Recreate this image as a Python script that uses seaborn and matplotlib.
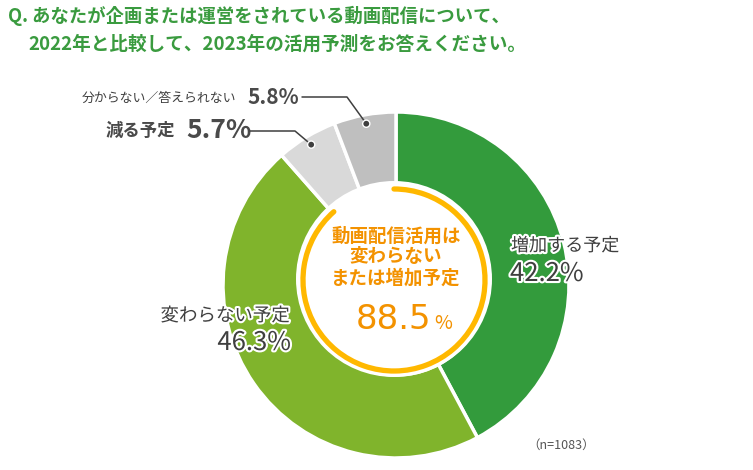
import numpy as np
import matplotlib
matplotlib.use("Agg")
import matplotlib.pyplot as plt
import matplotlib.patheffects as pe
from matplotlib.patches import Circle, Arc
import seaborn as sns

# ---- data ----
categories = ["増加する予定", "変わらない予定", "減る予定", "分からない／答えられない"]
values = [42.2, 46.3, 5.7, 5.8]
colors = ["#339b3c", "#80b42c", "#d9d9d9", "#bfbfbf"]
title_lines = ["Q. あなたが企画または運営をされている動画配信について、",
               "2022年と比較して、2023年の活用予測をお答えください。"]
center_label = "動画配信活用は\n変わらない\nまたは増加予定"
n_label = "（n=1083）"
combined = values[0] + values[1]

sns.set_theme(style="white")
plt.rcParams["font.family"] = ["Noto Sans CJK JP", "DejaVu Sans"]

W, H = 753, 470
fig = plt.figure(figsize=(W / 100, H / 100), dpi=100)
ax = fig.add_axes([0, 0, 1, 1])


def Y(p):
    return H - p


DARK = "#3f3f3f"
stroke = [pe.withStroke(linewidth=3, foreground="white")]

# donut
cx, cy, R = 396, 285, 173
ax.pie(values, colors=colors, startangle=90, counterclock=False, radius=R,
       center=(cx, Y(cy)), frame=False,
       wedgeprops=dict(width=83, edgecolor="white", linewidth=2.5))
ax.add_patch(Circle((394, Y(279)), 98, facecolor="white", edgecolor="none", zorder=3))

# orange ring for combined share
ax.add_patch(Arc((394, Y(280)), 2 * 91, 2 * 91, theta1=90 + 360 * (1 - combined / 100),
                 theta2=450, color="#ffb800", linewidth=3.8, capstyle="round", zorder=4))

ax.set_xlim(0, W)
ax.set_ylim(0, H)
ax.set_aspect("auto")
ax.axis("off")

# title
ax.text(8, Y(16), title_lines[0], fontsize=13.2, fontweight="bold", color="#3a9b3f",
        ha="left", va="center")
ax.text(28, Y(44), title_lines[1], fontsize=13.4, fontweight="bold", color="#3a9b3f",
        ha="left", va="center")

# center text
ax.text(396, Y(257), center_label, fontsize=13.3, fontweight="bold", color="#f39200",
        ha="center", va="center", linespacing=1.15, zorder=5)
ax.text(431, Y(329), f"{combined:.1f}", fontsize=24.5, color="#f39200", ha="right",
        va="baseline", family=["DejaVu Sans"], zorder=5)
ax.text(434, Y(329), "%", fontsize=14, color="#f39200", ha="left", va="baseline", zorder=5)

# wedge labels inside ring
ax.text(511, Y(246), categories[0], fontsize=13, color=DARK, ha="left", va="center",
        path_effects=stroke, zorder=6)
ax.text(510, Y(274), f"{values[0]}%", fontsize=18.5, color=DARK, ha="left", va="center",
        path_effects=stroke, zorder=6)
ax.text(290, Y(316), categories[1], fontsize=13.3, color=DARK, ha="right", va="center",
        path_effects=stroke, zorder=6)
ax.text(291, Y(343), f"{values[1]}%", fontsize=18.5, color=DARK, ha="right", va="center",
        path_effects=stroke, zorder=6)

# outside labels with leader lines
ax.text(105, Y(131), categories[2], fontsize=12.5, fontweight="bold", color="#4a4a4a",
        ha="left", va="center")
ax.text(186, Y(131), f"{values[2]}%", fontsize=19, fontweight="bold", color="#4a4a4a",
        ha="left", va="center")
ax.text(82, Y(98), categories[3], fontsize=9.3, color=DARK, ha="left", va="center")
ax.text(247, Y(97), f"{values[3]}%", fontsize=15, fontweight="bold", color="#4a4a4a",
        ha="left", va="center")

cum = np.cumsum([0] + values[:-1])
r_dot = 164
leaders = {2: [(250, 131), (295, 131)], 3: [(302, 97), (347, 97)]}
for i, pts in leaders.items():
    ang = np.deg2rad(90 - 360 * (cum[i] + values[i] / 2) / 100)
    dx, dy = cx + r_dot * np.cos(ang), Y(cy) + r_dot * np.sin(ang)
    xs = [p[0] for p in pts] + [dx]
    ys = [Y(p[1]) for p in pts] + [dy]
    ax.plot(xs, ys, color=DARK, linewidth=1.1, zorder=6)
    ax.add_patch(Circle((dx, dy), 3.6, facecolor=DARK, edgecolor="white",
                        linewidth=1, zorder=7))

ax.text(527, Y(445), n_label, fontsize=9, color="#555555", ha="left", va="center")

fig.savefig("out.png", dpi=100, facecolor="white")
